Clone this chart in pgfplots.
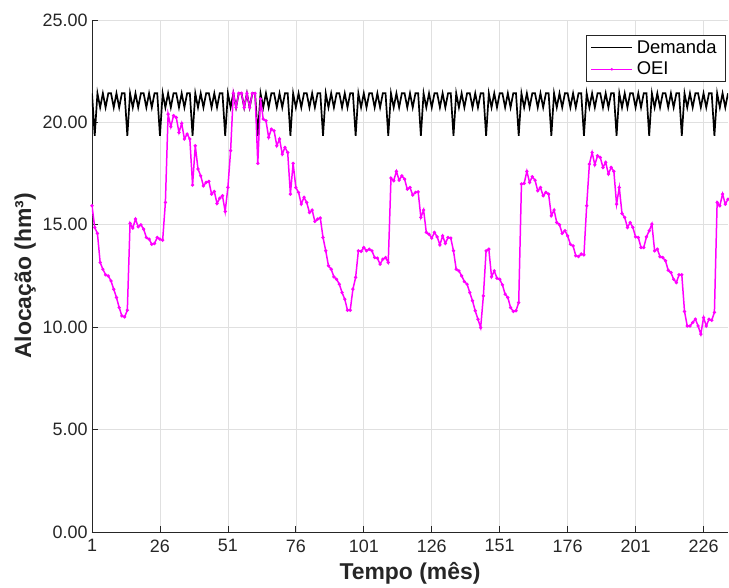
\documentclass[border=0pt]{standalone}
\usepackage{fontspec}
\setmainfont{Liberation Sans}
\usepackage{pgfplots}
\pgfplotsset{compat=1.18}
\definecolor{axgray}{gray}{0.15}
\definecolor{gridgray}{gray}{0.88}
\definecolor{oei}{rgb}{1,0,1}
\begin{document}
\begin{tikzpicture}
\begin{axis}[
  scale only axis,
  width=636bp, height=512bp,
  xmin=1, xmax=235, ymin=0, ymax=25,
  xtick={1,26,...,226},
  ytick={0,5,...,25},
  /pgf/number format/assume math mode=true,
  yticklabel style={xshift=-1bp, /pgf/number format/.cd, fixed, fixed zerofill, precision=2},
  axis x line*=bottom, axis y line*=left,
  axis line style={axgray, line width=0.7pt},
  tick align=inside,
  major tick length=6bp,
  tick style={axgray, line width=0.7pt},
  grid=major,
  major grid style={gridgray, line width=0.6pt},
  ticklabel style={font=\fontsize{18}{21}\selectfont, text=axgray},
  xticklabel style={yshift=-4bp},
  xlabel={Tempo (mês)},
  ylabel={Alocação (hm³)},
  label style={font=\bfseries\fontsize{23}{26}\selectfont, text=axgray},
  xlabel style={yshift=-3bp},
  ylabel style={yshift=0bp},
  legend style={draw=axgray, line width=0.6pt, font=\fontsize{18.5}{21}\selectfont,
    at={(1,1)}, anchor=north east, xshift=-2bp, yshift=-15bp,
    inner xsep=5bp, inner ysep=3bp, row sep=3bp,
    /tikz/every odd column/.append style={column sep=0bp},
    /tikz/every node/.append style={inner xsep=4bp}},
  legend cell align=left,
  legend image code/.code={
    \draw[line width=0.9pt, mark repeat=2,mark phase=2] plot coordinates {(0bp,0bp) (20.5bp,0bp) (41bp,0bp)};
  },
]
% demanda mensal (0,691 hm3/dia x dias do mes)
\addplot[black, line width=1.7pt] coordinates {
(1,21.42)(2,19.35)(3,21.42)(4,20.73)(5,21.42)(6,20.73)(7,21.42)(8,21.42)(9,20.73)(10,21.42)(11,20.73)(12,21.42)
(13,21.42)(14,19.35)(15,21.42)(16,20.73)(17,21.42)(18,20.73)(19,21.42)(20,21.42)(21,20.73)(22,21.42)(23,20.73)(24,21.42)
(25,21.42)(26,19.35)(27,21.42)(28,20.73)(29,21.42)(30,20.73)(31,21.42)(32,21.42)(33,20.73)(34,21.42)(35,20.73)(36,21.42)
(37,21.42)(38,19.35)(39,21.42)(40,20.73)(41,21.42)(42,20.73)(43,21.42)(44,21.42)(45,20.73)(46,21.42)(47,20.73)(48,21.42)
(49,21.42)(50,19.35)(51,21.42)(52,20.73)(53,21.42)(54,20.73)(55,21.42)(56,21.42)(57,20.73)(58,21.42)(59,20.73)(60,21.42)
(61,21.42)(62,19.35)(63,21.42)(64,20.73)(65,21.42)(66,20.73)(67,21.42)(68,21.42)(69,20.73)(70,21.42)(71,20.73)(72,21.42)
(73,21.42)(74,19.35)(75,21.42)(76,20.73)(77,21.42)(78,20.73)(79,21.42)(80,21.42)(81,20.73)(82,21.42)(83,20.73)(84,21.42)
(85,21.42)(86,19.35)(87,21.42)(88,20.73)(89,21.42)(90,20.73)(91,21.42)(92,21.42)(93,20.73)(94,21.42)(95,20.73)(96,21.42)
(97,21.42)(98,19.35)(99,21.42)(100,20.73)(101,21.42)(102,20.73)(103,21.42)(104,21.42)(105,20.73)(106,21.42)(107,20.73)(108,21.42)
(109,21.42)(110,19.35)(111,21.42)(112,20.73)(113,21.42)(114,20.73)(115,21.42)(116,21.42)(117,20.73)(118,21.42)(119,20.73)(120,21.42)
(121,21.42)(122,19.35)(123,21.42)(124,20.73)(125,21.42)(126,20.73)(127,21.42)(128,21.42)(129,20.73)(130,21.42)(131,20.73)(132,21.42)
(133,21.42)(134,19.35)(135,21.42)(136,20.73)(137,21.42)(138,20.73)(139,21.42)(140,21.42)(141,20.73)(142,21.42)(143,20.73)(144,21.42)
(145,21.42)(146,19.35)(147,21.42)(148,20.73)(149,21.42)(150,20.73)(151,21.42)(152,21.42)(153,20.73)(154,21.42)(155,20.73)(156,21.42)
(157,21.42)(158,19.35)(159,21.42)(160,20.73)(161,21.42)(162,20.73)(163,21.42)(164,21.42)(165,20.73)(166,21.42)(167,20.73)(168,21.42)
(169,21.42)(170,19.35)(171,21.42)(172,20.73)(173,21.42)(174,20.73)(175,21.42)(176,21.42)(177,20.73)(178,21.42)(179,20.73)(180,21.42)
(181,21.42)(182,19.35)(183,21.42)(184,20.73)(185,21.42)(186,20.73)(187,21.42)(188,21.42)(189,20.73)(190,21.42)(191,20.73)(192,21.42)
(193,21.42)(194,19.35)(195,21.42)(196,20.73)(197,21.42)(198,20.73)(199,21.42)(200,21.42)(201,20.73)(202,21.42)(203,20.73)(204,21.42)
(205,21.42)(206,19.35)(207,21.42)(208,20.73)(209,21.42)(210,20.73)(211,21.42)(212,21.42)(213,20.73)(214,21.42)(215,20.73)(216,21.42)
(217,21.42)(218,19.35)(219,21.42)(220,20.73)(221,21.42)(222,20.73)(223,21.42)(224,21.42)(225,20.73)(226,21.42)(227,20.73)(228,21.42)
(229,21.42)(230,19.35)(231,21.42)(232,20.73)(233,21.42)(234,20.73)(235,21.42)
};
\addlegendentry{Demanda}
% alocacao pela OEI
\addplot[oei, line width=1.5pt, mark=*, mark size=0.8pt, mark options={oei}] coordinates {
(1,15.93)(2,14.87)(3,14.58)(4,13.16)(5,12.83)(6,12.56)(7,12.50)(8,12.26)(9,11.85)(10,11.45)(11,10.96)(12,10.55)
(13,10.50)(14,10.83)(15,15.07)(16,14.84)(17,15.28)(18,14.90)(19,15.00)(20,14.79)(21,14.38)(22,14.30)(23,14.05)(24,14.09)
(25,14.38)(26,14.30)(27,14.25)(28,16.09)(29,20.40)(30,19.79)(31,20.33)(32,20.24)(33,19.51)(34,19.95)(35,19.19)(36,19.43)
(37,19.19)(38,16.94)(39,18.86)(40,17.72)(41,17.39)(42,16.90)(43,17.07)(44,17.12)(45,16.50)(46,16.63)(47,16.04)(48,16.30)
(49,16.42)(50,15.65)(51,16.83)(52,18.62)(53,21.42)(54,20.73)(55,21.42)(56,21.42)(57,20.73)(58,21.42)(59,20.73)(60,21.42)
(61,21.42)(62,18.00)(63,21.14)(64,20.16)(65,20.08)(66,19.27)(67,19.67)(68,19.59)(69,18.86)(70,19.19)(71,18.45)(72,18.78)
(73,18.53)(74,16.50)(75,18.00)(76,16.82)(77,16.58)(78,16.01)(79,16.34)(80,16.09)(81,15.60)(82,15.72)(83,15.16)(84,15.28)
(85,15.33)(86,14.38)(87,13.73)(88,13.00)(89,12.83)(90,12.46)(91,12.34)(92,12.10)(93,11.69)(94,11.37)(95,10.83)(96,10.83)
(97,11.86)(98,12.43)(99,13.73)(100,13.70)(101,13.89)(102,13.73)(103,13.81)(104,13.73)(105,13.40)(106,13.37)(107,13.08)(108,13.32)
(109,13.40)(110,13.16)(111,17.28)(112,17.15)(113,17.61)(114,17.18)(115,17.39)(116,17.23)(117,16.74)(118,16.82)(119,16.45)(120,16.58)
(121,16.61)(122,15.36)(123,15.72)(124,14.63)(125,14.54)(126,14.35)(127,14.63)(128,14.41)(129,14.02)(130,14.46)(131,14.09)(132,14.38)
(133,14.35)(134,13.73)(135,12.83)(136,12.75)(137,12.51)(138,12.23)(139,12.10)(140,11.69)(141,11.29)(142,10.80)(143,10.39)(144,9.98)
(145,11.53)(146,13.73)(147,13.81)(148,12.46)(149,12.75)(150,12.39)(151,12.34)(152,12.07)(153,11.61)(154,11.45)(155,10.96)(156,10.77)
(157,10.80)(158,11.20)(159,16.99)(160,17.02)(161,17.61)(162,17.07)(163,17.35)(164,17.18)(165,16.66)(166,16.82)(167,16.42)(168,16.58)
(169,16.50)(170,15.44)(171,15.72)(172,15.11)(173,15.00)(174,14.58)(175,14.71)(176,14.46)(177,14.05)(178,13.97)(179,13.49)(180,13.45)
(181,13.57)(182,13.53)(183,15.93)(184,17.96)(185,18.53)(186,17.93)(187,18.37)(188,18.29)(189,17.80)(190,18.05)(191,17.48)(192,17.80)
(193,17.61)(194,16.01)(195,16.82)(196,15.55)(197,15.36)(198,14.87)(199,15.11)(200,14.87)(201,14.41)(202,14.38)(203,13.89)(204,13.89)
(205,14.41)(206,14.71)(207,15.03)(208,13.73)(209,13.81)(210,13.44)(211,13.40)(212,13.24)(213,12.78)(214,12.67)(215,12.34)(216,12.18)
(217,12.56)(218,12.56)(219,10.77)(220,10.06)(221,10.06)(222,10.23)(223,10.39)(224,10.06)(225,9.66)(226,10.47)(227,10.06)(228,10.39)
(229,10.34)(230,10.72)(231,16.09)(232,15.93)(233,16.50)(234,16.01)(235,16.25)
};
\addlegendentry{OEI}
\end{axis}
\pgfresetboundingbox
\path ([xshift=-92bp,yshift=-56bp]current axis.south west) rectangle ([xshift=1bp,yshift=20bp]current axis.north east);
\end{tikzpicture}
\end{document}
